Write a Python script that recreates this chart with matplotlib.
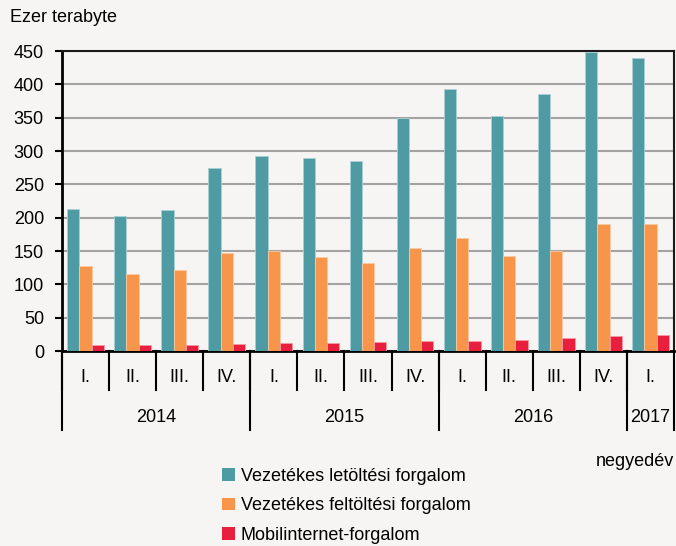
import matplotlib
matplotlib.use("Agg")
import matplotlib.pyplot as plt
import matplotlib.transforms as mtransforms
from matplotlib.patches import Patch
import numpy as np

plt.rcParams['font.family'] = ['Liberation Sans', 'DejaVu Sans']

quarters = ['I.', 'II.', 'III.', 'IV.', 'I.', 'II.', 'III.', 'IV.',
            'I.', 'II.', 'III.', 'IV.', 'I.']
years = ['2014', '2015', '2016', '2017']
year_len = [4, 4, 4, 1]

letoltes = [213, 202, 211, 275, 293, 289, 285, 350, 393, 353, 385, 449, 440]
feltoltes = [127, 115, 122, 147, 150, 141, 132, 155, 170, 143, 150, 190, 190]
mobil = [8.5, 9, 9.5, 11, 11.5, 12.5, 13.5, 15.5, 15, 16.5, 20, 22.5, 23.5]

series_names = ['Vezetékes letöltési forgalom',
                'Vezetékes feltöltési forgalom',
                'Mobilinternet-forgalom']
colors = ['#4e9ba3', '#f7964a', '#e8203d']
edges = ['#a9d0d4', '#fbc9a2', '#f49aa6']
bg = '#f6f5f3'

fig = plt.figure(figsize=(6.76, 5.46), dpi=100, facecolor=bg)
ax = fig.add_axes([62 / 676, 1 - 351 / 546, 612 / 676, 300 / 546], facecolor=bg)

x = np.arange(len(quarters))
w = 0.26
for i, vals in enumerate([letoltes, feltoltes, mobil]):
    ax.bar(x + (i - 1) * w, vals, w, color=colors[i], edgecolor=edges[i],
           linewidth=0.6, zorder=3)

ax.set_xlim(-0.5, len(quarters) - 0.5)
ax.set_ylim(0, 450)
ax.set_yticks(np.arange(0, 451, 50))
ax.yaxis.grid(True, color='#a3a3a3', linewidth=1.5, zorder=0)
ax.set_axisbelow(True)
ax.set_xticks([])
ax.tick_params(axis='y', direction='out', length=5, width=1.5, labelsize=13, pad=8)
for side in ['left', 'bottom']:
    ax.spines[side].set_linewidth(2)
    ax.spines[side].set_color('black')
for side in ['top', 'right']:
    ax.spines[side].set_linewidth(1.5)
    ax.spines[side].set_color('#1a1a1a')

# category axis below
trans = mtransforms.blended_transform_factory(ax.transData, ax.transAxes)
q_bottom = -39 / 300
y_bottom = -79 / 300
for k in range(len(quarters)):
    ax.text(k, -27 / 300, quarters[k], transform=trans, ha='center', va='center',
            fontsize=13)
    ax.plot([k - 0.5, k - 0.5], [0, q_bottom], transform=trans, color='black',
            linewidth=1.5, clip_on=False)
start = 0
for yr, n in zip(years, year_len):
    ax.plot([start - 0.5, start - 0.5], [0, y_bottom], transform=trans, color='black',
            linewidth=1.5, clip_on=False)
    ax.text(start + (n - 1) / 2, -66 / 300, yr, transform=trans, ha='center',
            va='center', fontsize=13)
    start += n
ax.plot([start - 0.5, start - 0.5], [0, y_bottom], transform=trans, color='black',
        linewidth=1.5, clip_on=False)

fig.text(10 / 676, 1 - 18 / 546, 'Ezer terabyte', ha='left', va='center', fontsize=13)
fig.text(674 / 676, 1 - 462 / 546, 'negyedév', ha='right', va='center', fontsize=13)

handles = [Patch(facecolor=c, edgecolor='none') for c in colors]
fig.legend(handles, series_names, loc='upper left',
           bbox_to_anchor=(222 / 676, 1 - 468 / 546), frameon=False,
           fontsize=13, handlelength=0.7, handleheight=0.7, handletextpad=0.35,
           labelspacing=0.68, borderaxespad=0, borderpad=0)

fig.savefig('out.png', dpi=100, facecolor=bg)
